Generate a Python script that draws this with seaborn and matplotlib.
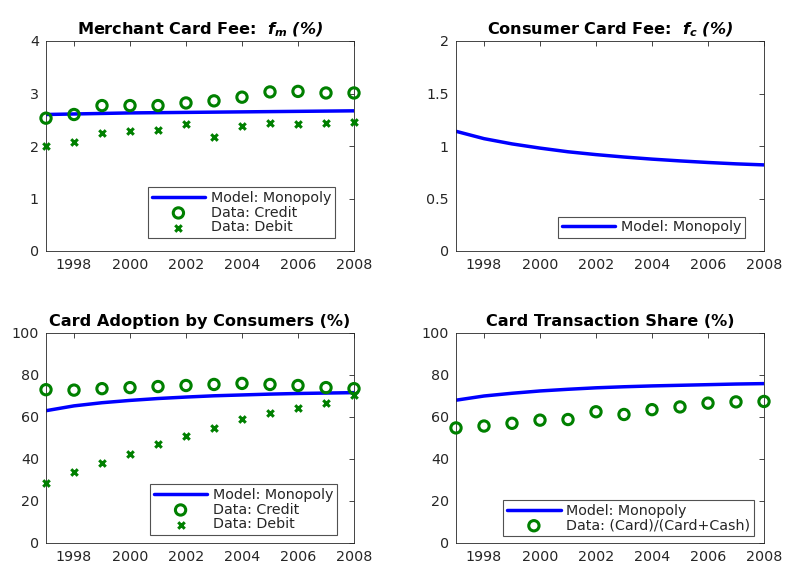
import numpy as np
import matplotlib
matplotlib.use("Agg")
import matplotlib.pyplot as plt
import seaborn as sns
from matplotlib.ticker import FuncFormatter

# data
years = list(range(1997, 2009))

fm_model = [2.60, 2.61, 2.62, 2.63, 2.635, 2.64, 2.645, 2.65, 2.655, 2.66, 2.665, 2.67]
fm_credit = [2.53, 2.60, 2.77, 2.77, 2.77, 2.82, 2.86, 2.93, 3.03, 3.04, 3.01, 3.01]
fm_debit = [2.00, 2.07, 2.25, 2.29, 2.31, 2.42, 2.17, 2.39, 2.43, 2.42, 2.44, 2.45]

fc_model = [1.14, 1.07, 1.02, 0.98, 0.945, 0.918, 0.895, 0.875, 0.858, 0.843, 0.830, 0.820]

adopt_model = [63.0, 65.3, 66.8, 67.9, 68.8, 69.5, 70.1, 70.5, 70.9, 71.2, 71.4, 71.6]
adopt_credit = [73.0, 72.8, 73.5, 74.0, 74.5, 75.0, 75.5, 76.0, 75.5, 75.0, 74.0, 73.5]
adopt_debit = [28.5, 33.8, 38.2, 42.5, 47.0, 51.0, 55.0, 59.2, 61.8, 64.3, 66.8, 70.5]

share_model = [68.0, 70.0, 71.3, 72.4, 73.2, 73.9, 74.4, 74.8, 75.1, 75.4, 75.7, 75.9]
share_data = [54.8, 55.7, 57.0, 58.5, 58.8, 62.5, 61.2, 63.5, 64.8, 66.6, 67.2, 67.4]

sns.set_style("white")
plt.rcParams['font.family'] = ['DejaVu Sans']
# math part of the titles (f_m (%)) is bold italic in the original
plt.rcParams['mathtext.fontset'] = 'custom'
plt.rcParams['mathtext.it'] = 'DejaVu Sans:italic:bold'
plt.rcParams['mathtext.rm'] = 'DejaVu Sans:italic:bold'

BLUE = (0, 0, 1)
GREEN = (0, 0.5, 0)
GRAY = (0.15, 0.15, 0.15)

fig = plt.figure(figsize=(7.86, 5.64), dpi=100)
W, H = 786, 564
boxes = [(46, 41), (456, 41), (46, 333), (456, 333)]
axes = []
for (x0, y0) in boxes:
    axes.append(fig.add_axes([x0 / W, 1 - (y0 + 210) / H, 308 / W, 210 / H]))


def style(ax, ylim, yticks, title):
    ax.set_xlim(1997, 2008)
    ax.set_ylim(*ylim)
    ax.set_xticks(range(1998, 2009, 2))
    ax.set_yticks(yticks)
    ax.yaxis.set_major_formatter(FuncFormatter(lambda v, p: f"{v:g}"))
    ax.tick_params(direction='in', length=3.5, width=0.6, colors=GRAY,
                   labelsize=10.3, top=True, right=True, pad=5)
    for s in ax.spines.values():
        s.set_color(GRAY)
        s.set_linewidth(0.6)
        s.set_visible(True)
    ax.set_title(title, fontsize=11.6, fontweight='bold', color='black', pad=5)
    ax.set_xlabel("")
    ax.set_ylabel("")


def legend(ax, anchor):
    leg = ax.legend(loc='lower right', bbox_to_anchor=anchor, fontsize=10.3,
                    frameon=True, fancybox=False, handlelength=3.75,
                    borderpad=0.25, labelspacing=0.05, handletextpad=0.4,
                    borderaxespad=0)
    leg.get_frame().set_edgecolor(GRAY)
    leg.get_frame().set_linewidth(0.8)


def line(ax, y):
    sns.lineplot(x=years, y=y, color=BLUE, linewidth=2.5, ax=ax,
                 label="Model: Monopoly")


def circles(ax, y, label):
    sns.scatterplot(x=years, y=y, marker='o', s=55, facecolor='none',
                    edgecolor=GREEN, linewidth=2.2, ax=ax, label=label,
                    zorder=3, clip_on=False)


def crosses(ax, y, label):
    sns.scatterplot(x=years, y=y, marker='x', s=22, color=GREEN,
                    linewidth=2.2, ax=ax, label=label, zorder=3, clip_on=False)


ax = axes[0]
line(ax, fm_model)
circles(ax, fm_credit, "Data: Credit")
crosses(ax, fm_debit, "Data: Debit")
style(ax, (0, 4), range(0, 5), r"Merchant Card Fee:  $f_m\ (\%)$")
legend(ax, (0.938, 0.062))

ax = axes[1]
line(ax, fc_model)
style(ax, (0, 2), [0, 0.5, 1, 1.5, 2], r"Consumer Card Fee:  $f_c\ (\%)$")
legend(ax, (0.938, 0.062))

ax = axes[2]
line(ax, adopt_model)
circles(ax, adopt_credit, "Data: Credit")
crosses(ax, adopt_debit, "Data: Debit")
style(ax, (0, 100), range(0, 101, 20), "Card Adoption by Consumers (%)")
legend(ax, (0.945, 0.038))

ax = axes[3]
line(ax, share_model)
circles(ax, share_data, "Data: (Card)/(Card+Cash)")
style(ax, (0, 100), range(0, 101, 20), "Card Transaction Share (%)")
legend(ax, (0.968, 0.033))

fig.savefig("out.png", dpi=100)
